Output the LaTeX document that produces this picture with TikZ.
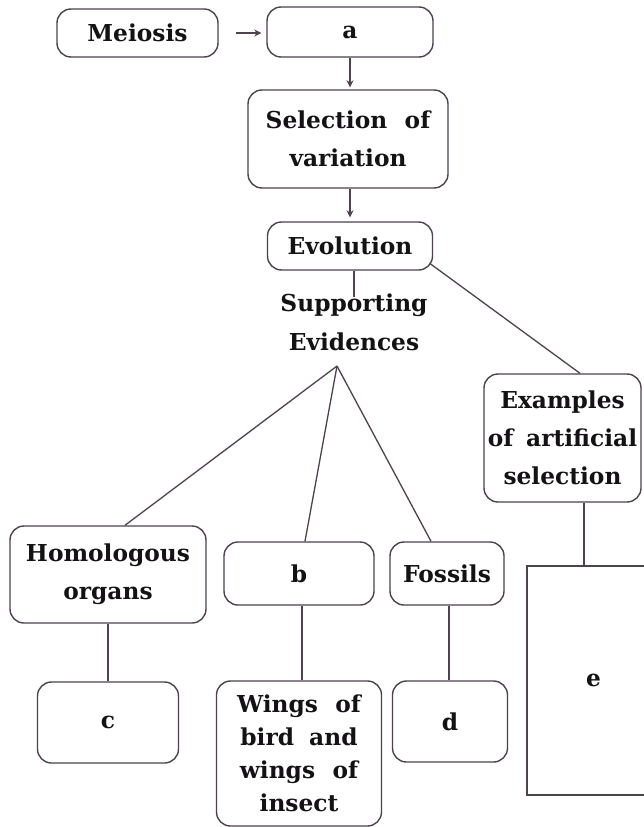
\documentclass[tikz,border=0pt]{standalone}
\usepackage{fontspec}
\setmainfont{DejaVu Serif}
\usetikzlibrary{arrows.meta,calc}
\definecolor{linec}{RGB}{78,66,78}
\definecolor{textc}{RGB}{20,18,20}
\begin{document}
\begin{tikzpicture}[x=1pt,y=-1pt,
  box/.style={draw=linec,line width=1.4pt,rounded corners=14pt,align=center,
    inner sep=1.5pt,text=textc,font=\bfseries\fontsize{23.3}{38}\selectfont},
  sqbox/.style={draw=linec,line width=1.4pt,align=center,inner sep=2pt,
    text=textc,font=\bfseries\fontsize{23.3}{38}\selectfont},
  lbl/.style={align=center,inner sep=0pt,text=textc,font=\bfseries\fontsize{23.3}{39}\selectfont},
  conn/.style={draw=linec,line width=1.3pt},
  arr/.style={conn,-{Stealth[length=7pt,width=7pt]}}]
\clip (0,0) rectangle (644,827);
\fill[white] (0,0) rectangle (644,827);

\node[box,minimum width=161pt,minimum height=48pt] (meiosis) at (137.5,33) {Meiosis};
\node[box,minimum width=166pt,minimum height=50pt] (a) at (350,32) {a};
\node[box,minimum width=200pt,minimum height=98pt] (sel) at (348,139) {Selection\hspace{.4em} of\\variation};
\node[box,minimum width=165pt,minimum height=48pt] (evo) at (350,246) {Evolution};
\node[lbl] (sup) at (354,322) {Supporting\\Evidences};
\coordinate (apex) at (337,366);

\node[box,minimum width=196pt,minimum height=97pt] (hom) at (108,574.5) {Homologous\\organs};
\node[box,minimum width=150pt,minimum height=63pt] (b) at (299,573.5) {b};
\node[box,minimum width=114pt,minimum height=63pt] (fos) at (447,573.5) {Fossils};
\node[box,minimum width=157pt,minimum height=128pt] (ex) at (562.5,438) {Examples\\of\hspace{.2em} artificial\\selection};
\node[sqbox,minimum width=133pt,minimum height=229pt] (e) at (593.5,680.5) {e};

\node[box,minimum width=141pt,minimum height=81pt] (c) at (108,722.5) {c};
\node[box,minimum width=165pt,minimum height=145pt,
  font=\bfseries\fontsize{23.3}{33}\selectfont] (w) at (299,753.5)
  {Wings\hspace{.4em} of\\bird\hspace{.3em} and\\wings\hspace{.4em} of\\insect};
\node[box,minimum width=115pt,minimum height=81pt] (d) at (450,721.5) {d};

% connectors
\draw[arr,shorten <=17pt,shorten >=5pt] (meiosis.east) -- (meiosis.east -| a.west);
\draw[arr,shorten >=2pt] (a.south) -- (a.south |- sel.north);
\draw[arr,shorten >=4pt] (evo.north |- sel.south) -- (evo.north);
\draw[conn] (evo.south -| sup.north) -- ([yshift=-4pt]sup.north);
\draw[conn] ([xshift=-3pt,yshift=7pt]evo.south east) -- ([xshift=17.5pt]ex.north);
\draw[conn] (apex) -- ([xshift=17pt]hom.north);
\draw[conn] (apex) -- ([xshift=6pt]b.north);
\draw[conn] (apex) -- ([xshift=-16pt]fos.north);
\draw[conn] (hom.south) -- (hom.south |- c.north);
\draw[conn] ([xshift=3pt]b.south) -- ([xshift=3pt]b.south |- w.north);
\draw[conn] ([xshift=2pt]fos.south) -- ([xshift=2pt]fos.south |- d.north);
\draw[conn] ([xshift=21.5pt]ex.south) -- ([xshift=21.5pt]ex.south |- e.north);
\end{tikzpicture}
\end{document}
